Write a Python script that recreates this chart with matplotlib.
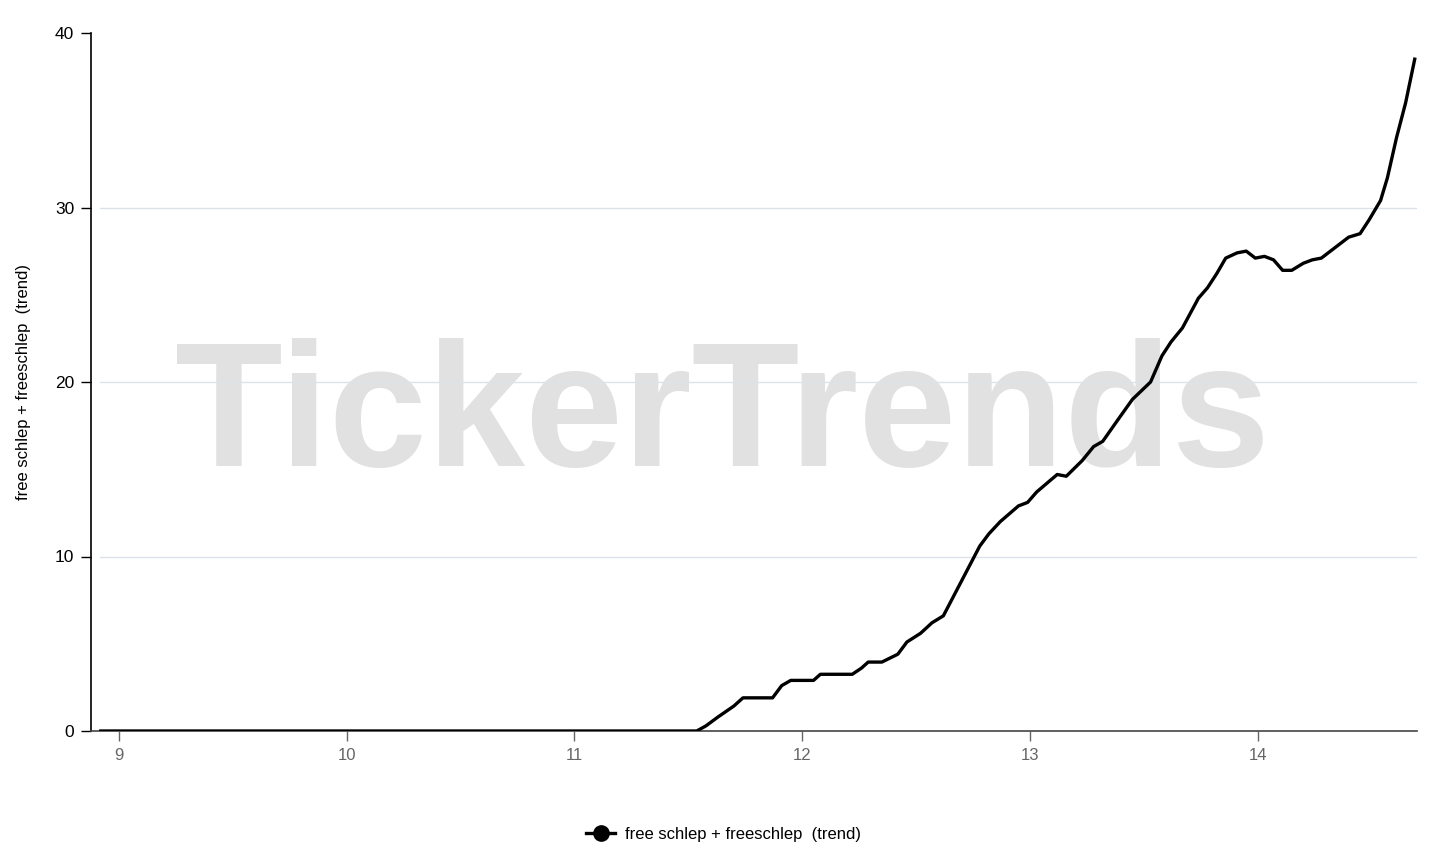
import matplotlib
matplotlib.use("Agg")
import matplotlib.pyplot as plt
from matplotlib.lines import Line2D

x_vals = [8.92, 11.537, 11.577, 11.63, 11.70, 11.74, 11.87, 11.91, 11.95, 12.05, 12.08,
          12.22, 12.26, 12.29, 12.35, 12.42, 12.46, 12.52, 12.57, 12.62, 12.66, 12.72,
          12.78, 12.82, 12.87, 12.95, 12.99, 13.03, 13.12, 13.16, 13.23, 13.28, 13.32,
          13.39, 13.45, 13.53, 13.58, 13.62, 13.67, 13.74, 13.78, 13.82, 13.86, 13.91,
          13.95, 13.99, 14.03, 14.07, 14.11, 14.15, 14.20, 14.24, 14.28, 14.32, 14.36,
          14.40, 14.45, 14.49, 14.54, 14.57, 14.61, 14.65, 14.69]
y_vals = [0.0, 0.0, 0.29, 0.8, 1.43, 1.9, 1.9, 2.6, 2.9, 2.9, 3.25,
          3.25, 3.6, 3.95, 3.95, 4.4, 5.1, 5.6, 6.2, 6.6, 7.6, 9.1,
          10.6, 11.3, 12.0, 12.9, 13.1, 13.7, 14.7, 14.6, 15.5, 16.3, 16.6,
          17.9, 19.0, 20.0, 21.5, 22.3, 23.1, 24.8, 25.4, 26.2, 27.1, 27.4,
          27.5, 27.1, 27.2, 27.0, 26.4, 26.4, 26.8, 27.0, 27.1, 27.5, 27.9,
          28.3, 28.5, 29.3, 30.4, 31.7, 34.0, 36.0, 38.5]
x_ticks = [9, 10, 11, 12, 13, 14]
y_ticks = [0, 10, 20, 30, 40]
series_name = "free schlep + freeschlep  (trend)"

plt.rcParams['font.family'] = ['Liberation Sans', 'DejaVu Sans']

fig = plt.figure(figsize=(14.56, 8.59), dpi=100)
ax = fig.add_axes([91/1456, 1 - 731/859, (1417-91)/1456, (731-33)/859])

ax.set_xlim(8.877, 14.70)
ax.set_ylim(0, 40)

# watermark (behind the data)
ax.text(0.496, 1 - 420/859, "TickerTrends", fontsize=127, fontweight='bold',
        color='#e1e1e1', ha='center', va='center', zorder=0,
        transform=fig.transFigure)

for yv in y_ticks[1:-1]:
    ax.axhline(yv, xmin=0.0068, xmax=1, color='#dde1ea', lw=1, zorder=1)

ax.plot(x_vals, y_vals, color='black', lw=2.4, zorder=3, solid_joinstyle='round')

ax.set_xticks(x_ticks)
ax.set_yticks(y_ticks)
ax.tick_params(axis='x', colors='#666666', labelsize=12, length=7, width=1, pad=5)
ax.tick_params(axis='y', colors='black', labelsize=12.5, length=7, width=1, pad=5)

for s in ['top', 'right']:
    ax.spines[s].set_visible(False)
ax.spines['left'].set_color('black')
ax.spines['left'].set_linewidth(1.2)
ax.spines['bottom'].set_color('#444444')
ax.spines['bottom'].set_linewidth(1.2)
ax.patch.set_alpha(0)

ax.set_ylabel(series_name, fontsize=12, labelpad=17)

handle = Line2D([], [], color='black', lw=2.4, marker='o', markersize=11)
fig.legend([handle], [series_name], loc='center', bbox_to_anchor=(0.497, 1 - 834/859),
           frameon=False, fontsize=12, handlelength=1.7, handletextpad=0.6)

fig.savefig('out.png', dpi=100)
